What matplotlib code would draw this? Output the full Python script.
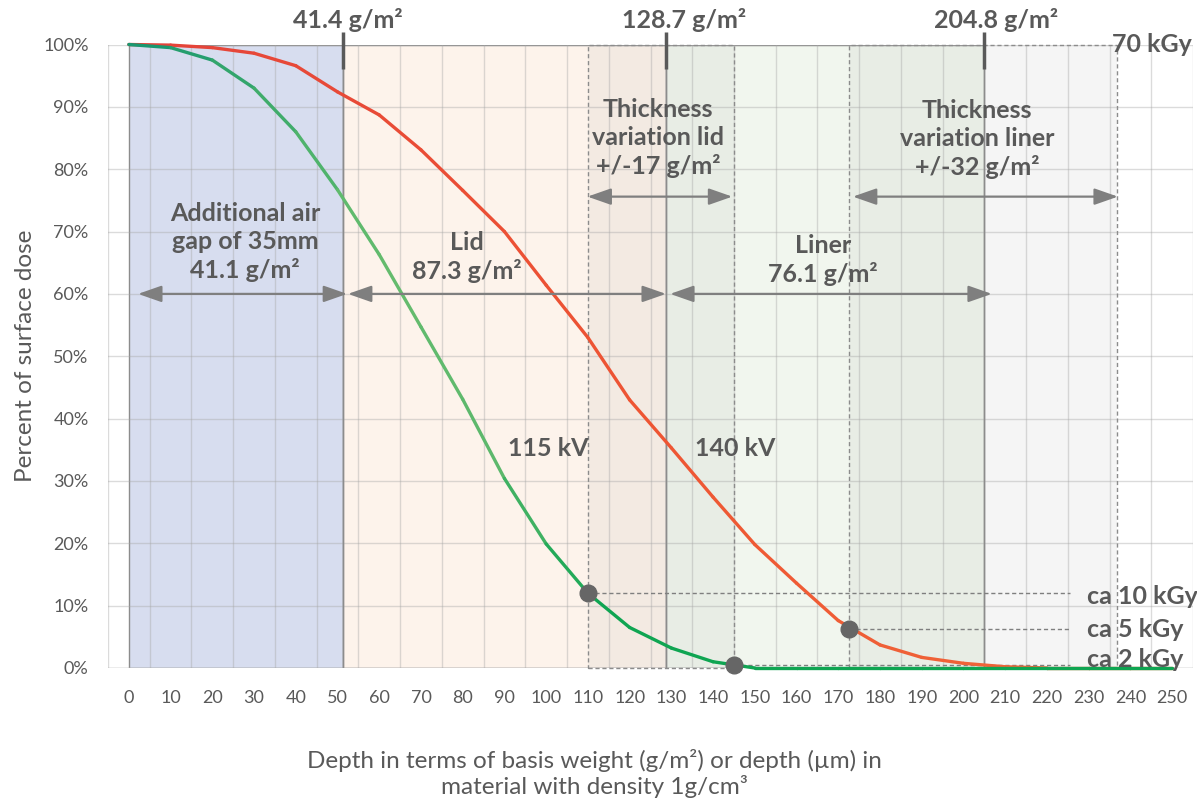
"""
Depth-dose curves for 115 kV and 140 kV e-beam through air gap, lid and liner
"""
import matplotlib
matplotlib.use('Agg')
import matplotlib.pyplot as plt
from matplotlib.collections import LineCollection
from matplotlib.colors import LinearSegmentedColormap
from matplotlib.patches import Rectangle
import numpy as np

plt.rcParams['font.family'] = ['Lato', 'DejaVu Sans']

# depth in g/m2 (category axis 0..250)
depth = np.arange(0, 251, 10)
dose_115kv = [100, 99.5, 97.5, 93.0, 86.0, 76.7, 66.3, 54.7, 43.1, 30.4, 19.9,
              12.0, 6.5, 3.2, 1.0, 0, 0, 0, 0, 0, 0, 0, 0, 0, 0, 0]
dose_140kv = [100, 99.9, 99.5, 98.6, 96.6, 92.4, 88.7, 83.1, 76.6, 70.0, 61.4,
              53.0, 43.0, 35.3, 27.4, 19.8, 13.6, 7.6, 3.7, 1.7, 0.75, 0.2,
              0, 0, 0, 0]

# layers: air gap, lid, liner
layer_edges = [0, 51.4, 128.7, 204.8]
layer_colors = ['#D7DDEF', '#FDF3EB', '#F1F6EE']
edge_labels = ['41.4 g/m²', '128.7 g/m²', '204.8 g/m²']
layer_texts = ['Additional air\ngap of 35mm\n41.1 g/m²', 'Lid\n87.3 g/m²',
               'Liner\n76.1 g/m²']

# thickness variation bands
band_lid = (110.0, 145.0)
band_liner = (172.6, 236.8)
band_texts = ['Thickness\nvariation lid\n+/-17 g/m²',
              'Thickness\nvariation liner\n+/-32 g/m²']

# dose points
dose_x = [110, 172.6, 145]
dose_y = [12.0, 6.3, 0.5]
dose_labels = ['ca 10 kGy', 'ca 5 kGy', 'ca 2 kGy']

TXT = '#595959'
ARROW = '#7F7F7F'
BOLD = 18


def gradient_line(ax, x, y, colors, lw=2.4, z=6):
    pts = np.column_stack([x, y])
    segs = np.stack([pts[:-1], pts[1:]], axis=1)
    cmap = LinearSegmentedColormap.from_list('grad', colors)
    lc = LineCollection(segs, colors=cmap(np.linspace(0, 1, len(segs))),
                        linewidth=lw, capstyle='round', joinstyle='round',
                        zorder=z, clip_on=False)
    ax.add_collection(lc)


def double_arrow(ax, x1, x2, y):
    ax.annotate('', xy=(x2, y), xytext=(x1, y),
                arrowprops=dict(arrowstyle='<|-|>,head_length=0.8,head_width=0.28',
                                color=ARROW, lw=1.6, shrinkA=0, shrinkB=0,
                                mutation_scale=18), zorder=7)


fig = plt.figure(figsize=(11.97, 8.02), dpi=100)
ax = fig.add_axes([108 / 1197, 1 - 668 / 802, (1193 - 108) / 1197, (668 - 44.5) / 802])
ax.set_xlim(-5, 255)
ax.set_ylim(0, 100)

# layer backgrounds
for i in range(3):
    ax.add_patch(Rectangle((layer_edges[i], 0), layer_edges[i + 1] - layer_edges[i], 100,
                           facecolor=layer_colors[i], edgecolor='#8C8C8C', lw=1, zorder=0))

# variation bands (translucent grey with dashed outline)
for lo, hi in [band_lid, band_liner]:
    ax.add_patch(Rectangle((lo, 0), hi - lo, 100, facecolor='#7F7F7F', alpha=0.075,
                           edgecolor='none', zorder=1))
    ax.add_patch(Rectangle((lo, 0), hi - lo, 100, facecolor='none', edgecolor='#8C8C8C',
                           lw=1, ls=(0, (3, 2)), zorder=3, clip_on=False))

# gridlines
ax.set_xticks(depth)
ax.set_xticklabels([str(d) for d in depth])
ax.set_xticks(np.arange(-5, 256, 10), minor=True)
ax.set_yticks(np.arange(0, 101, 10))
ax.set_yticklabels([f'{v}%' for v in range(0, 101, 10)])
ax.grid(which='minor', axis='x', color='#A6A6A6', alpha=0.4, lw=1, zorder=2)
ax.grid(which='major', axis='y', color='#A6A6A6', alpha=0.4, lw=1, zorder=2)
ax.set_axisbelow(False)
for s in ax.spines.values():
    s.set_visible(False)
ax.axhline(0, color='#BFBFBF', lw=1, zorder=2)
ax.tick_params(which='both', length=0, colors=TXT, labelsize=13)
ax.tick_params(axis='x', pad=16)
ax.tick_params(axis='y', pad=14)

# layer boundary lines and top ticks
for b in layer_edges[1:]:
    ax.plot([b, b], [0, 100], color='#8C8C8C', lw=1, zorder=3)
    ax.plot([b, b], [96, 102], color=TXT, lw=2.5, zorder=8, clip_on=False,
            solid_capstyle='butt')
for xc, lab in zip([52.4, 133.0, 207.7], edge_labels):
    ax.text(xc, 104.0, lab, ha='center', va='center', fontsize=BOLD,
            fontweight='bold', color=TXT, clip_on=False)

# curves (115 kV drawn over 140 kV)
gradient_line(ax, depth, dose_140kv, ['#E4433A', '#EE5533', '#F06A3A'], z=6)
gradient_line(ax, depth, dose_115kv,
              ['#1A9870', '#3AAA6A', '#66BC6E', '#5DB86C', '#0FA552', '#0FA552',
               '#0FA552', '#0FA552', '#0FA552', '#0FA552'], z=7)

# dose points with dashed guides
for x, y in zip(dose_x, dose_y):
    ax.plot([x, 225.5], [y, y], color='#7F7F7F', lw=1, ls=(0, (3, 2)), zorder=4)
ax.plot(dose_x, dose_y, 'o', color='#666666', markersize=12, zorder=9, clip_on=False)
for lab, y in zip(dose_labels, [11.5, 6.1, 1.4]):
    ax.text(229.6, y, lab, ha='left', va='center', fontsize=BOLD, fontweight='bold',
            color=TXT, clip_on=False, zorder=10)
ax.text(235.6, 100, '70 kGy', ha='left', va='center', fontsize=BOLD, fontweight='bold',
        color=TXT, clip_on=False, zorder=10)

# arrows
double_arrow(ax, 2.2, 52.3, 60)
double_arrow(ax, 52.5, 128.7, 60)
double_arrow(ax, 129.7, 206.8, 60)
double_arrow(ax, 109.9, 144.6, 75.6)
double_arrow(ax, 173.5, 237.0, 75.6)

# annotations
kw = dict(ha='center', va='center', fontsize=BOLD, fontweight='bold', color=TXT,
          linespacing=1.25, zorder=10)
ax.text(27.9, 68.3, layer_texts[0], **kw)
ax.text(81.1, 65.9, layer_texts[1], **kw)
ax.text(166.3, 65.4, layer_texts[2], **kw)
ax.text(126.8, 85.0, band_texts[0], **kw)
ax.text(203.3, 84.9, band_texts[1], **kw)
ax.text(100.5, 35.2, '115 kV', **kw)
ax.text(145.3, 35.2, '140 kV', **kw)

ax.set_ylabel('Percent of surface dose', fontsize=17.5, color=TXT, labelpad=5)
fig.text(594 / 1197, 1 - 773.5 / 802,
         'Depth in terms of basis weight (g/m²) or depth (µm) in\n'
         'material with density 1g/cm³', fontsize=17.5, color=TXT,
         ha='center', va='center', linespacing=1.12)

plt.savefig('out.png', dpi=100)
plt.close()
